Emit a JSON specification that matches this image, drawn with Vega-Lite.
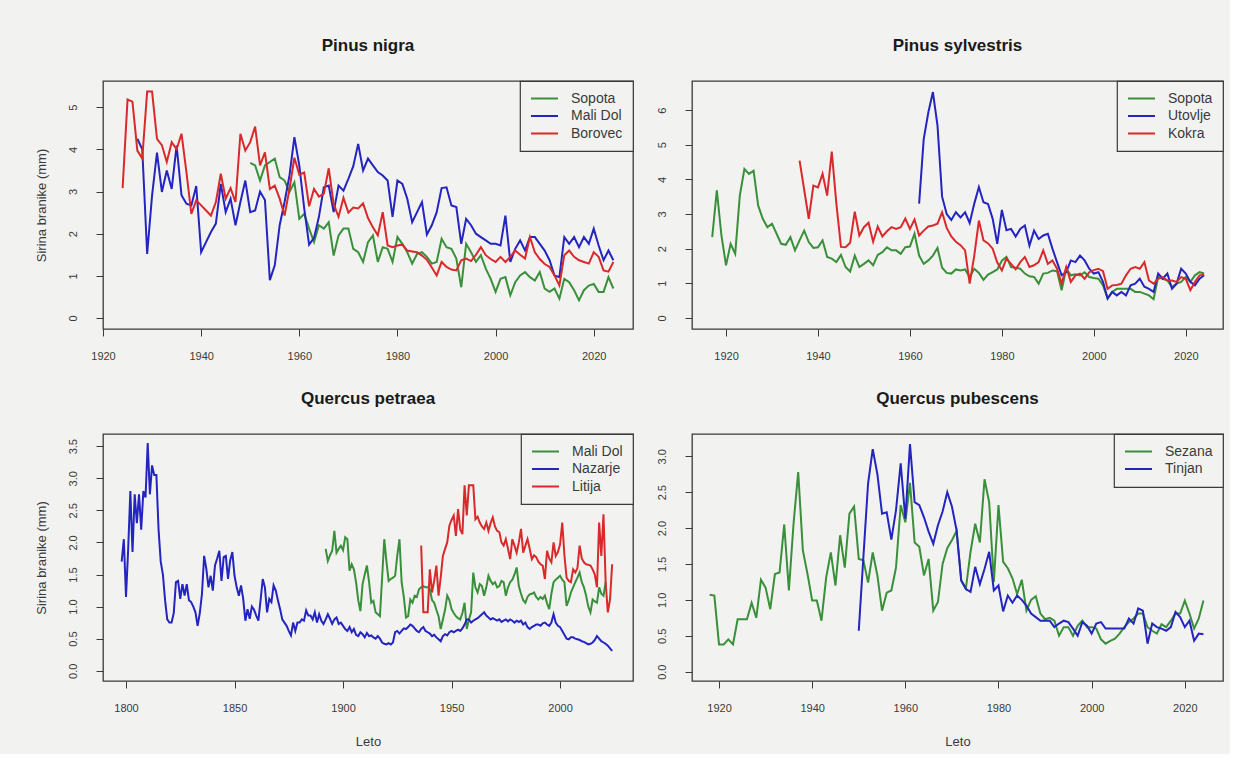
{
"$schema": "https://vega.github.io/schema/vega-lite/v6.json",
"background": "#f2f3f1",
"padding": {"left": 34, "top": 36, "right": 5, "bottom": 5},
"config": {
 "font": "Liberation Sans",
 "view": {"stroke": "#3a3a3a", "strokeWidth": 1.3},
 "range": {"category": ["#3a8f3a", "#2424bf", "#d9292b"]},
 "axis": {"domain": false, "grid": false, "ticks": true, "tickColor": "#3a3a3a", "tickSize": 7, "tickWidth": 1, "labelFontSize": 11, "labelColor": "#3a3a3a", "labelPadding": 14, "labelFlush": false, "labelOverlap": false, "titleFontSize": 13, "titleFontWeight": "normal", "titleColor": "#3a3a3a"},
 "axisY": {"labelAngle": 270, "labelAlign": "center", "labelBaseline": "bottom", "labelPadding": 18, "titlePadding": 19},
 "axisX": {"titlePadding": 22},
 "title": {"fontSize": 17, "fontWeight": "bold", "color": "#1a1a1a", "offset": 25, "anchor": "middle"},
 "legend": {"orient": "top-right", "offset": 0, "strokeColor": "#3a3a3a", "strokeWidth": 1.2, "fillColor": "#f2f3f1", "padding": 10, "symbolType": "stroke", "symbolSize": 729, "symbolStrokeWidth": 2, "clipHeight": 15, "rowPadding": 2.5, "labelFontSize": 14, "labelOffset": 12, "labelColor": "#3a3a3a"}
},
"datasets": {
 "a1": [{"x":1950,"y":3.68},{"x":1951,"y":3.62},{"x":1952,"y":3.26},{"x":1953,"y":3.62},{"x":1954,"y":3.7},{"x":1955,"y":3.78},{"x":1956,"y":3.34},{"x":1957,"y":3.26},{"x":1958,"y":2.99},{"x":1959,"y":3.22},{"x":1960,"y":2.35},{"x":1961,"y":2.47},{"x":1962,"y":2.12},{"x":1963,"y":1.8},{"x":1964,"y":2.2},{"x":1965,"y":2.12},{"x":1966,"y":2.27},{"x":1967,"y":1.48},{"x":1968,"y":1.96},{"x":1969,"y":2.12},{"x":1970,"y":2.12},{"x":1971,"y":1.64},{"x":1972,"y":1.56},{"x":1973,"y":1.33},{"x":1974,"y":1.8},{"x":1975,"y":1.96},{"x":1976,"y":1.33},{"x":1977,"y":1.68},{"x":1978,"y":1.64},{"x":1979,"y":1.33},{"x":1980,"y":1.92},{"x":1981,"y":1.76},{"x":1982,"y":1.56},{"x":1983,"y":1.29},{"x":1984,"y":1.52},{"x":1985,"y":1.56},{"x":1986,"y":1.45},{"x":1987,"y":1.29},{"x":1988,"y":1.33},{"x":1989,"y":1.88},{"x":1990,"y":1.68},{"x":1991,"y":1.64},{"x":1992,"y":1.41},{"x":1993,"y":0.73},{"x":1994,"y":1.76},{"x":1995,"y":1.56},{"x":1996,"y":1.33},{"x":1997,"y":1.49},{"x":1998,"y":1.17},{"x":1999,"y":0.93},{"x":2000,"y":0.62},{"x":2001,"y":0.93},{"x":2002,"y":0.97},{"x":2003,"y":0.54},{"x":2004,"y":0.85},{"x":2005,"y":1.01},{"x":2006,"y":1.09},{"x":2007,"y":0.97},{"x":2008,"y":0.89},{"x":2009,"y":1.09},{"x":2010,"y":0.7},{"x":2011,"y":0.62},{"x":2012,"y":0.7},{"x":2013,"y":0.46},{"x":2014,"y":0.93},{"x":2015,"y":0.85},{"x":2016,"y":0.66},{"x":2017,"y":0.42},{"x":2018,"y":0.66},{"x":2019,"y":0.77},{"x":2020,"y":0.81},{"x":2021,"y":0.62},{"x":2022,"y":0.62},{"x":2023,"y":0.97},{"x":2024,"y":0.7}],
 "a2": [{"x":1927,"y":4.25},{"x":1928,"y":4.0},{"x":1929,"y":1.52},{"x":1930,"y":2.91},{"x":1931,"y":3.92},{"x":1932,"y":2.99},{"x":1933,"y":3.5},{"x":1934,"y":3.06},{"x":1935,"y":4.09},{"x":1936,"y":2.91},{"x":1937,"y":2.71},{"x":1938,"y":2.67},{"x":1939,"y":3.13},{"x":1940,"y":1.56},{"x":1941,"y":1.8},{"x":1942,"y":2.04},{"x":1943,"y":2.24},{"x":1944,"y":3.18},{"x":1945,"y":2.51},{"x":1946,"y":2.83},{"x":1947,"y":2.2},{"x":1948,"y":2.75},{"x":1949,"y":3.26},{"x":1950,"y":2.51},{"x":1951,"y":2.55},{"x":1952,"y":3.0},{"x":1953,"y":2.8},{"x":1954,"y":0.9},{"x":1955,"y":1.25},{"x":1956,"y":2.2},{"x":1957,"y":2.75},{"x":1958,"y":3.38},{"x":1959,"y":4.29},{"x":1960,"y":3.62},{"x":1961,"y":2.6},{"x":1962,"y":1.74},{"x":1963,"y":1.9},{"x":1964,"y":2.4},{"x":1965,"y":3.1},{"x":1966,"y":3.14},{"x":1967,"y":2.51},{"x":1968,"y":3.14},{"x":1969,"y":3.02},{"x":1970,"y":3.3},{"x":1971,"y":3.6},{"x":1972,"y":4.13},{"x":1973,"y":3.5},{"x":1974,"y":3.78},{"x":1975,"y":3.62},{"x":1976,"y":3.46},{"x":1977,"y":3.38},{"x":1978,"y":3.26},{"x":1979,"y":2.4},{"x":1980,"y":3.26},{"x":1981,"y":3.18},{"x":1982,"y":2.83},{"x":1983,"y":2.27},{"x":1984,"y":2.51},{"x":1985,"y":2.75},{"x":1986,"y":1.98},{"x":1987,"y":2.2},{"x":1988,"y":2.51},{"x":1989,"y":3.08},{"x":1990,"y":3.1},{"x":1991,"y":2.67},{"x":1992,"y":2.63},{"x":1993,"y":1.76},{"x":1994,"y":2.35},{"x":1995,"y":2.2},{"x":1996,"y":2.0},{"x":1997,"y":1.92},{"x":1998,"y":1.84},{"x":1999,"y":1.76},{"x":2000,"y":1.76},{"x":2001,"y":1.72},{"x":2002,"y":2.43},{"x":2003,"y":1.33},{"x":2004,"y":1.64},{"x":2005,"y":1.84},{"x":2006,"y":1.6},{"x":2007,"y":1.92},{"x":2008,"y":1.92},{"x":2009,"y":1.76},{"x":2010,"y":1.6},{"x":2011,"y":1.37},{"x":2012,"y":1.01},{"x":2013,"y":0.97},{"x":2014,"y":1.92},{"x":2015,"y":1.76},{"x":2016,"y":1.92},{"x":2017,"y":1.68},{"x":2018,"y":1.92},{"x":2019,"y":1.76},{"x":2020,"y":2.12},{"x":2021,"y":1.72},{"x":2022,"y":1.37},{"x":2023,"y":1.6},{"x":2024,"y":1.37}],
 "a3": [{"x":1924,"y":3.08},{"x":1925,"y":5.18},{"x":1926,"y":5.13},{"x":1927,"y":3.97},{"x":1928,"y":3.78},{"x":1929,"y":5.37},{"x":1930,"y":5.37},{"x":1931,"y":4.25},{"x":1932,"y":4.1},{"x":1933,"y":3.7},{"x":1934,"y":4.17},{"x":1935,"y":4.0},{"x":1936,"y":4.37},{"x":1937,"y":3.46},{"x":1938,"y":2.47},{"x":1939,"y":2.79},{"x":1940,"y":2.67},{"x":1941,"y":2.55},{"x":1942,"y":2.43},{"x":1943,"y":2.75},{"x":1944,"y":3.42},{"x":1945,"y":2.83},{"x":1946,"y":3.08},{"x":1947,"y":2.75},{"x":1948,"y":4.37},{"x":1949,"y":3.97},{"x":1950,"y":4.17},{"x":1951,"y":4.54},{"x":1952,"y":3.62},{"x":1953,"y":3.93},{"x":1954,"y":3.06},{"x":1955,"y":3.14},{"x":1956,"y":2.83},{"x":1957,"y":2.43},{"x":1958,"y":3.06},{"x":1959,"y":3.8},{"x":1960,"y":3.4},{"x":1961,"y":3.45},{"x":1962,"y":2.65},{"x":1963,"y":3.06},{"x":1964,"y":2.88},{"x":1965,"y":2.95},{"x":1966,"y":3.55},{"x":1967,"y":2.7},{"x":1968,"y":2.4},{"x":1969,"y":2.85},{"x":1970,"y":2.5},{"x":1971,"y":2.62},{"x":1972,"y":2.6},{"x":1973,"y":2.72},{"x":1974,"y":2.37},{"x":1975,"y":2.15},{"x":1976,"y":1.96},{"x":1977,"y":2.51},{"x":1978,"y":1.72},{"x":1979,"y":1.68},{"x":1980,"y":1.72},{"x":1981,"y":1.74},{"x":1982,"y":1.6},{"x":1983,"y":1.58},{"x":1984,"y":1.56},{"x":1985,"y":1.48},{"x":1986,"y":1.38},{"x":1987,"y":1.2},{"x":1988,"y":1.01},{"x":1989,"y":1.33},{"x":1990,"y":1.21},{"x":1991,"y":1.15},{"x":1992,"y":1.13},{"x":1993,"y":1.37},{"x":1994,"y":1.41},{"x":1995,"y":1.35},{"x":1996,"y":1.5},{"x":1997,"y":1.68},{"x":1998,"y":1.49},{"x":1999,"y":1.4},{"x":2000,"y":1.33},{"x":2001,"y":1.45},{"x":2002,"y":1.33},{"x":2003,"y":1.45},{"x":2004,"y":1.6},{"x":2005,"y":1.5},{"x":2006,"y":1.41},{"x":2007,"y":1.92},{"x":2008,"y":1.56},{"x":2009,"y":1.4},{"x":2010,"y":1.28},{"x":2011,"y":1.21},{"x":2012,"y":1.01},{"x":2013,"y":0.77},{"x":2014,"y":1.49},{"x":2015,"y":1.6},{"x":2016,"y":1.45},{"x":2017,"y":1.37},{"x":2018,"y":1.33},{"x":2019,"y":1.29},{"x":2020,"y":1.56},{"x":2021,"y":1.45},{"x":2022,"y":1.13},{"x":2023,"y":1.1},{"x":2024,"y":1.33}],
 "b1": [{"x":1917,"y":2.33},{"x":1918,"y":3.68},{"x":1919,"y":2.38},{"x":1920,"y":1.52},{"x":1921,"y":2.14},{"x":1922,"y":1.85},{"x":1923,"y":3.53},{"x":1924,"y":4.3},{"x":1925,"y":4.16},{"x":1926,"y":4.25},{"x":1927,"y":3.24},{"x":1928,"y":2.86},{"x":1929,"y":2.62},{"x":1930,"y":2.72},{"x":1931,"y":2.43},{"x":1932,"y":2.14},{"x":1933,"y":2.11},{"x":1934,"y":2.33},{"x":1935,"y":1.95},{"x":1936,"y":2.24},{"x":1937,"y":2.52},{"x":1938,"y":2.19},{"x":1939,"y":2.02},{"x":1940,"y":2.04},{"x":1941,"y":2.24},{"x":1942,"y":1.76},{"x":1943,"y":1.71},{"x":1944,"y":1.61},{"x":1945,"y":1.82},{"x":1946,"y":1.47},{"x":1947,"y":1.34},{"x":1948,"y":1.8},{"x":1949,"y":1.47},{"x":1950,"y":1.56},{"x":1951,"y":1.66},{"x":1952,"y":1.52},{"x":1953,"y":1.82},{"x":1954,"y":1.9},{"x":1955,"y":2.04},{"x":1956,"y":1.95},{"x":1957,"y":1.95},{"x":1958,"y":1.85},{"x":1959,"y":2.04},{"x":1960,"y":2.06},{"x":1961,"y":2.43},{"x":1962,"y":1.8},{"x":1963,"y":1.56},{"x":1964,"y":1.66},{"x":1965,"y":1.8},{"x":1966,"y":2.02},{"x":1967,"y":1.45},{"x":1968,"y":1.3},{"x":1969,"y":1.28},{"x":1970,"y":1.4},{"x":1971,"y":1.37},{"x":1972,"y":1.4},{"x":1973,"y":1.18},{"x":1974,"y":1.42},{"x":1975,"y":1.3},{"x":1976,"y":1.1},{"x":1977,"y":1.25},{"x":1978,"y":1.32},{"x":1979,"y":1.4},{"x":1980,"y":1.65},{"x":1981,"y":1.76},{"x":1982,"y":1.47},{"x":1983,"y":1.45},{"x":1984,"y":1.42},{"x":1985,"y":1.28},{"x":1986,"y":1.2},{"x":1987,"y":1.18},{"x":1988,"y":0.99},{"x":1989,"y":1.28},{"x":1990,"y":1.3},{"x":1991,"y":1.37},{"x":1992,"y":1.35},{"x":1993,"y":0.8},{"x":1994,"y":1.42},{"x":1995,"y":1.23},{"x":1996,"y":1.26},{"x":1997,"y":1.23},{"x":1998,"y":1.32},{"x":1999,"y":1.18},{"x":2000,"y":1.15},{"x":2001,"y":1.13},{"x":2002,"y":0.94},{"x":2003,"y":0.56},{"x":2004,"y":0.75},{"x":2005,"y":0.84},{"x":2006,"y":0.84},{"x":2007,"y":0.84},{"x":2008,"y":0.84},{"x":2009,"y":0.75},{"x":2010,"y":0.75},{"x":2011,"y":0.7},{"x":2012,"y":0.65},{"x":2013,"y":0.54},{"x":2014,"y":1.18},{"x":2015,"y":1.13},{"x":2016,"y":1.08},{"x":2017,"y":0.89},{"x":2018,"y":0.99},{"x":2019,"y":1.04},{"x":2020,"y":1.18},{"x":2021,"y":1.04},{"x":2022,"y":1.23},{"x":2023,"y":1.32},{"x":2024,"y":1.28}],
 "b2": [{"x":1962,"y":3.3},{"x":1963,"y":5.16},{"x":1964,"y":5.93},{"x":1965,"y":6.52},{"x":1966,"y":5.55},{"x":1967,"y":3.5},{"x":1968,"y":3.0},{"x":1969,"y":2.83},{"x":1970,"y":3.05},{"x":1971,"y":2.9},{"x":1972,"y":3.05},{"x":1973,"y":2.74},{"x":1974,"y":3.3},{"x":1975,"y":3.78},{"x":1976,"y":3.34},{"x":1977,"y":3.29},{"x":1978,"y":2.86},{"x":1979,"y":2.14},{"x":1980,"y":3.12},{"x":1981,"y":2.53},{"x":1982,"y":2.57},{"x":1983,"y":2.35},{"x":1984,"y":2.57},{"x":1985,"y":2.67},{"x":1986,"y":2.09},{"x":1987,"y":2.52},{"x":1988,"y":2.28},{"x":1989,"y":2.38},{"x":1990,"y":2.43},{"x":1991,"y":2.0},{"x":1992,"y":1.61},{"x":1993,"y":1.23},{"x":1994,"y":1.32},{"x":1995,"y":1.66},{"x":1996,"y":1.61},{"x":1997,"y":1.8},{"x":1998,"y":1.66},{"x":1999,"y":1.42},{"x":2000,"y":1.28},{"x":2001,"y":1.32},{"x":2002,"y":1.04},{"x":2003,"y":0.56},{"x":2004,"y":0.75},{"x":2005,"y":0.65},{"x":2006,"y":0.75},{"x":2007,"y":0.65},{"x":2008,"y":0.94},{"x":2009,"y":0.99},{"x":2010,"y":1.13},{"x":2011,"y":0.9},{"x":2012,"y":0.84},{"x":2013,"y":0.75},{"x":2014,"y":1.28},{"x":2015,"y":1.13},{"x":2016,"y":1.28},{"x":2017,"y":0.84},{"x":2018,"y":0.99},{"x":2019,"y":1.42},{"x":2020,"y":1.28},{"x":2021,"y":1.04},{"x":2022,"y":0.94},{"x":2023,"y":1.13},{"x":2024,"y":1.23}],
 "b3": [{"x":1936,"y":4.54},{"x":1937,"y":3.7},{"x":1938,"y":2.86},{"x":1939,"y":3.82},{"x":1940,"y":3.77},{"x":1941,"y":4.16},{"x":1942,"y":3.53},{"x":1943,"y":4.8},{"x":1944,"y":3.3},{"x":1945,"y":2.05},{"x":1946,"y":2.04},{"x":1947,"y":2.17},{"x":1948,"y":3.07},{"x":1949,"y":2.38},{"x":1950,"y":2.62},{"x":1951,"y":2.75},{"x":1952,"y":2.2},{"x":1953,"y":2.64},{"x":1954,"y":2.35},{"x":1955,"y":2.5},{"x":1956,"y":2.62},{"x":1957,"y":2.57},{"x":1958,"y":2.62},{"x":1959,"y":2.87},{"x":1960,"y":2.57},{"x":1961,"y":2.84},{"x":1962,"y":2.38},{"x":1963,"y":2.52},{"x":1964,"y":2.64},{"x":1965,"y":2.67},{"x":1966,"y":2.72},{"x":1967,"y":3.05},{"x":1968,"y":2.6},{"x":1969,"y":2.35},{"x":1970,"y":2.2},{"x":1971,"y":2.1},{"x":1972,"y":1.95},{"x":1973,"y":0.99},{"x":1974,"y":1.8},{"x":1975,"y":2.81},{"x":1976,"y":2.24},{"x":1977,"y":2.15},{"x":1978,"y":2.0},{"x":1979,"y":1.6},{"x":1980,"y":1.37},{"x":1981,"y":1.71},{"x":1982,"y":1.56},{"x":1983,"y":1.4},{"x":1984,"y":1.61},{"x":1985,"y":1.76},{"x":1986,"y":1.47},{"x":1987,"y":1.52},{"x":1988,"y":1.61},{"x":1989,"y":1.95},{"x":1990,"y":1.56},{"x":1991,"y":1.66},{"x":1992,"y":1.42},{"x":1993,"y":0.99},{"x":1994,"y":1.47},{"x":1995,"y":1.04},{"x":1996,"y":1.23},{"x":1997,"y":1.28},{"x":1998,"y":1.13},{"x":1999,"y":1.32},{"x":2000,"y":1.38},{"x":2001,"y":1.42},{"x":2002,"y":1.35},{"x":2003,"y":0.84},{"x":2004,"y":0.94},{"x":2005,"y":0.95},{"x":2006,"y":0.99},{"x":2007,"y":1.23},{"x":2008,"y":1.42},{"x":2009,"y":1.47},{"x":2010,"y":1.42},{"x":2011,"y":1.61},{"x":2012,"y":1.08},{"x":2013,"y":0.99},{"x":2014,"y":1.13},{"x":2015,"y":1.18},{"x":2016,"y":1.08},{"x":2017,"y":1.08},{"x":2018,"y":1.04},{"x":2019,"y":1.18},{"x":2020,"y":1.13},{"x":2021,"y":0.8},{"x":2022,"y":1.04},{"x":2023,"y":1.23},{"x":2024,"y":1.25}],
 "c1": [{"x":1892,"y":1.9},{"x":1893,"y":1.71},{"x":1894,"y":1.8},{"x":1895,"y":1.87},{"x":1896,"y":2.18},{"x":1897,"y":1.84},{"x":1898,"y":1.9},{"x":1899,"y":1.95},{"x":1900,"y":1.88},{"x":1901,"y":2.08},{"x":1902,"y":2.05},{"x":1903,"y":1.56},{"x":1904,"y":1.66},{"x":1905,"y":1.58},{"x":1906,"y":1.38},{"x":1907,"y":1.1},{"x":1908,"y":0.93},{"x":1909,"y":1.35},{"x":1910,"y":1.5},{"x":1911,"y":1.64},{"x":1912,"y":1.38},{"x":1913,"y":1.06},{"x":1914,"y":1.09},{"x":1915,"y":0.91},{"x":1916,"y":0.88},{"x":1917,"y":0.85},{"x":1918,"y":1.45},{"x":1919,"y":2.05},{"x":1920,"y":1.7},{"x":1921,"y":1.4},{"x":1922,"y":1.43},{"x":1923,"y":1.45},{"x":1924,"y":1.48},{"x":1925,"y":1.8},{"x":1926,"y":2.05},{"x":1927,"y":1.38},{"x":1928,"y":1.15},{"x":1929,"y":0.83},{"x":1930,"y":0.85},{"x":1931,"y":1.11},{"x":1932,"y":1.06},{"x":1933,"y":1.17},{"x":1934,"y":1.15},{"x":1935,"y":1.27},{"x":1936,"y":1.3},{"x":1937,"y":1.32},{"x":1938,"y":1.3},{"x":1939,"y":1.3},{"x":1940,"y":1.27},{"x":1941,"y":1.1},{"x":1942,"y":1.06},{"x":1943,"y":0.95},{"x":1944,"y":0.85},{"x":1945,"y":0.65},{"x":1946,"y":0.8},{"x":1947,"y":0.95},{"x":1948,"y":1.17},{"x":1949,"y":1.1},{"x":1950,"y":0.96},{"x":1951,"y":0.9},{"x":1952,"y":0.85},{"x":1953,"y":0.82},{"x":1954,"y":0.8},{"x":1955,"y":0.9},{"x":1956,"y":1.06},{"x":1957,"y":0.65},{"x":1958,"y":0.8},{"x":1959,"y":0.91},{"x":1960,"y":1.53},{"x":1961,"y":1.3},{"x":1962,"y":1.22},{"x":1963,"y":1.35},{"x":1964,"y":1.32},{"x":1965,"y":1.17},{"x":1966,"y":1.3},{"x":1967,"y":1.48},{"x":1968,"y":1.4},{"x":1969,"y":1.35},{"x":1970,"y":1.38},{"x":1971,"y":1.3},{"x":1972,"y":1.32},{"x":1973,"y":1.4},{"x":1974,"y":1.38},{"x":1975,"y":1.17},{"x":1976,"y":1.3},{"x":1977,"y":1.38},{"x":1978,"y":1.42},{"x":1979,"y":1.5},{"x":1980,"y":1.61},{"x":1981,"y":1.32},{"x":1982,"y":1.2},{"x":1983,"y":1.1},{"x":1984,"y":1.06},{"x":1985,"y":1.15},{"x":1986,"y":1.19},{"x":1987,"y":1.2},{"x":1988,"y":1.22},{"x":1989,"y":1.15},{"x":1990,"y":1.11},{"x":1991,"y":1.15},{"x":1992,"y":1.12},{"x":1993,"y":1.17},{"x":1994,"y":1.05},{"x":1995,"y":0.96},{"x":1996,"y":1.2},{"x":1997,"y":1.38},{"x":1998,"y":1.42},{"x":1999,"y":1.45},{"x":2000,"y":1.48},{"x":2001,"y":1.42},{"x":2002,"y":1.38},{"x":2003,"y":1.01},{"x":2004,"y":1.1},{"x":2005,"y":1.22},{"x":2006,"y":1.3},{"x":2007,"y":1.38},{"x":2008,"y":1.45},{"x":2009,"y":1.53},{"x":2010,"y":1.38},{"x":2011,"y":1.3},{"x":2012,"y":1.17},{"x":2013,"y":1.0},{"x":2014,"y":0.91},{"x":2015,"y":1.11},{"x":2016,"y":1.08},{"x":2017,"y":1.06},{"x":2018,"y":1.3},{"x":2019,"y":1.2},{"x":2020,"y":1.17},{"x":2021,"y":1.38}],
 "c2": [{"x":1798,"y":1.7},{"x":1799,"y":2.05},{"x":1800,"y":1.15},{"x":1801,"y":1.9},{"x":1802,"y":2.8},{"x":1803,"y":1.85},{"x":1804,"y":2.75},{"x":1805,"y":2.3},{"x":1806,"y":2.75},{"x":1807,"y":2.2},{"x":1808,"y":2.8},{"x":1809,"y":2.7},{"x":1810,"y":3.55},{"x":1811,"y":2.75},{"x":1812,"y":3.2},{"x":1813,"y":3.05},{"x":1814,"y":3.05},{"x":1815,"y":2.2},{"x":1816,"y":1.7},{"x":1817,"y":1.5},{"x":1818,"y":1.1},{"x":1819,"y":0.8},{"x":1820,"y":0.75},{"x":1821,"y":0.75},{"x":1822,"y":0.9},{"x":1823,"y":1.38},{"x":1824,"y":1.4},{"x":1825,"y":1.12},{"x":1826,"y":1.35},{"x":1827,"y":1.17},{"x":1828,"y":1.35},{"x":1829,"y":1.1},{"x":1830,"y":1.07},{"x":1831,"y":1.0},{"x":1832,"y":0.91},{"x":1833,"y":0.7},{"x":1834,"y":0.9},{"x":1835,"y":1.2},{"x":1836,"y":1.79},{"x":1837,"y":1.59},{"x":1838,"y":1.3},{"x":1839,"y":1.48},{"x":1840,"y":1.25},{"x":1841,"y":1.64},{"x":1842,"y":1.75},{"x":1843,"y":1.87},{"x":1844,"y":1.4},{"x":1845,"y":1.77},{"x":1846,"y":1.79},{"x":1847,"y":1.43},{"x":1848,"y":1.72},{"x":1849,"y":1.85},{"x":1850,"y":1.48},{"x":1851,"y":1.3},{"x":1852,"y":1.17},{"x":1853,"y":1.33},{"x":1854,"y":1.12},{"x":1855,"y":0.78},{"x":1856,"y":0.96},{"x":1857,"y":0.81},{"x":1858,"y":1.0},{"x":1859,"y":0.95},{"x":1860,"y":0.86},{"x":1861,"y":0.78},{"x":1862,"y":1.1},{"x":1863,"y":1.43},{"x":1864,"y":1.3},{"x":1865,"y":0.91},{"x":1866,"y":1.12},{"x":1867,"y":1.07},{"x":1868,"y":1.33},{"x":1869,"y":1.25},{"x":1870,"y":1.1},{"x":1871,"y":0.96},{"x":1872,"y":0.8},{"x":1873,"y":0.75},{"x":1874,"y":0.7},{"x":1875,"y":0.62},{"x":1876,"y":0.55},{"x":1877,"y":0.75},{"x":1878,"y":0.62},{"x":1879,"y":0.75},{"x":1880,"y":0.75},{"x":1881,"y":0.8},{"x":1882,"y":0.78},{"x":1883,"y":0.94},{"x":1884,"y":0.86},{"x":1885,"y":0.86},{"x":1886,"y":0.8},{"x":1887,"y":0.91},{"x":1888,"y":0.75},{"x":1889,"y":0.88},{"x":1890,"y":0.78},{"x":1891,"y":0.73},{"x":1892,"y":0.8},{"x":1893,"y":0.88},{"x":1894,"y":0.81},{"x":1895,"y":0.73},{"x":1896,"y":0.8},{"x":1897,"y":0.83},{"x":1898,"y":0.73},{"x":1899,"y":0.75},{"x":1900,"y":0.7},{"x":1901,"y":0.65},{"x":1902,"y":0.62},{"x":1903,"y":0.68},{"x":1904,"y":0.6},{"x":1905,"y":0.65},{"x":1906,"y":0.56},{"x":1907,"y":0.54},{"x":1908,"y":0.6},{"x":1909,"y":0.57},{"x":1910,"y":0.52},{"x":1911,"y":0.59},{"x":1912,"y":0.54},{"x":1913,"y":0.55},{"x":1914,"y":0.52},{"x":1915,"y":0.5},{"x":1916,"y":0.54},{"x":1917,"y":0.5},{"x":1918,"y":0.44},{"x":1919,"y":0.42},{"x":1920,"y":0.41},{"x":1921,"y":0.43},{"x":1922,"y":0.41},{"x":1923,"y":0.44},{"x":1924,"y":0.6},{"x":1925,"y":0.62},{"x":1926,"y":0.58},{"x":1927,"y":0.62},{"x":1928,"y":0.66},{"x":1929,"y":0.65},{"x":1930,"y":0.68},{"x":1931,"y":0.72},{"x":1932,"y":0.7},{"x":1933,"y":0.66},{"x":1934,"y":0.62},{"x":1935,"y":0.6},{"x":1936,"y":0.65},{"x":1937,"y":0.68},{"x":1938,"y":0.62},{"x":1939,"y":0.6},{"x":1940,"y":0.58},{"x":1941,"y":0.54},{"x":1942,"y":0.56},{"x":1943,"y":0.52},{"x":1944,"y":0.49},{"x":1945,"y":0.46},{"x":1946,"y":0.54},{"x":1947,"y":0.57},{"x":1948,"y":0.55},{"x":1949,"y":0.6},{"x":1950,"y":0.62},{"x":1951,"y":0.6},{"x":1952,"y":0.62},{"x":1953,"y":0.64},{"x":1954,"y":0.62},{"x":1955,"y":0.66},{"x":1956,"y":0.72},{"x":1957,"y":0.8},{"x":1958,"y":0.8},{"x":1959,"y":0.75},{"x":1960,"y":0.78},{"x":1961,"y":0.8},{"x":1962,"y":0.82},{"x":1963,"y":0.85},{"x":1964,"y":0.88},{"x":1965,"y":0.91},{"x":1966,"y":0.86},{"x":1967,"y":0.83},{"x":1968,"y":0.8},{"x":1969,"y":0.82},{"x":1970,"y":0.8},{"x":1971,"y":0.78},{"x":1972,"y":0.8},{"x":1973,"y":0.76},{"x":1974,"y":0.78},{"x":1975,"y":0.8},{"x":1976,"y":0.77},{"x":1977,"y":0.8},{"x":1978,"y":0.78},{"x":1979,"y":0.75},{"x":1980,"y":0.78},{"x":1981,"y":0.76},{"x":1982,"y":0.78},{"x":1983,"y":0.72},{"x":1984,"y":0.75},{"x":1985,"y":0.68},{"x":1986,"y":0.65},{"x":1987,"y":0.68},{"x":1988,"y":0.7},{"x":1989,"y":0.72},{"x":1990,"y":0.72},{"x":1991,"y":0.7},{"x":1992,"y":0.74},{"x":1993,"y":0.75},{"x":1994,"y":0.72},{"x":1995,"y":0.7},{"x":1996,"y":0.75},{"x":1997,"y":0.88},{"x":1998,"y":0.75},{"x":1999,"y":0.7},{"x":2000,"y":0.68},{"x":2001,"y":0.62},{"x":2002,"y":0.56},{"x":2003,"y":0.5},{"x":2004,"y":0.49},{"x":2005,"y":0.52},{"x":2006,"y":0.52},{"x":2007,"y":0.5},{"x":2008,"y":0.49},{"x":2009,"y":0.48},{"x":2010,"y":0.46},{"x":2011,"y":0.45},{"x":2012,"y":0.43},{"x":2013,"y":0.41},{"x":2014,"y":0.42},{"x":2015,"y":0.44},{"x":2016,"y":0.48},{"x":2017,"y":0.54},{"x":2018,"y":0.5},{"x":2019,"y":0.46},{"x":2020,"y":0.44},{"x":2021,"y":0.42},{"x":2022,"y":0.39},{"x":2023,"y":0.35},{"x":2024,"y":0.31}],
 "c3": [{"x":1936,"y":1.95},{"x":1937,"y":0.91},{"x":1938,"y":0.91},{"x":1939,"y":0.91},{"x":1940,"y":1.58},{"x":1941,"y":1.22},{"x":1942,"y":1.4},{"x":1943,"y":1.64},{"x":1944,"y":1.17},{"x":1945,"y":1.45},{"x":1946,"y":1.79},{"x":1947,"y":1.9},{"x":1948,"y":2.0},{"x":1949,"y":2.26},{"x":1950,"y":2.35},{"x":1951,"y":2.42},{"x":1952,"y":2.1},{"x":1953,"y":2.52},{"x":1954,"y":2.2},{"x":1955,"y":2.13},{"x":1956,"y":2.89},{"x":1957,"y":2.42},{"x":1958,"y":2.89},{"x":1959,"y":2.89},{"x":1960,"y":2.89},{"x":1961,"y":2.36},{"x":1962,"y":2.4},{"x":1963,"y":2.31},{"x":1964,"y":2.25},{"x":1965,"y":2.21},{"x":1966,"y":2.31},{"x":1967,"y":2.18},{"x":1968,"y":2.3},{"x":1969,"y":2.39},{"x":1970,"y":2.25},{"x":1971,"y":2.18},{"x":1972,"y":2.16},{"x":1973,"y":2.0},{"x":1974,"y":1.95},{"x":1975,"y":2.05},{"x":1976,"y":1.9},{"x":1977,"y":1.74},{"x":1978,"y":2.05},{"x":1979,"y":1.95},{"x":1980,"y":1.84},{"x":1981,"y":2.0},{"x":1982,"y":2.21},{"x":1983,"y":1.84},{"x":1984,"y":1.95},{"x":1985,"y":2.05},{"x":1986,"y":1.9},{"x":1987,"y":1.74},{"x":1988,"y":1.8},{"x":1989,"y":1.77},{"x":1990,"y":1.7},{"x":1991,"y":1.66},{"x":1992,"y":1.64},{"x":1993,"y":1.43},{"x":1994,"y":1.87},{"x":1995,"y":1.75},{"x":1996,"y":1.69},{"x":1997,"y":2.0},{"x":1998,"y":1.79},{"x":1999,"y":1.85},{"x":2000,"y":1.97},{"x":2001,"y":2.31},{"x":2002,"y":1.8},{"x":2003,"y":1.45},{"x":2004,"y":1.4},{"x":2005,"y":1.38},{"x":2006,"y":1.58},{"x":2007,"y":1.53},{"x":2008,"y":1.6},{"x":2009,"y":1.95},{"x":2010,"y":1.75},{"x":2011,"y":1.69},{"x":2012,"y":1.66},{"x":2013,"y":1.65},{"x":2014,"y":1.64},{"x":2015,"y":1.58},{"x":2016,"y":1.5},{"x":2017,"y":1.3},{"x":2018,"y":2.31},{"x":2019,"y":1.79},{"x":2020,"y":2.44},{"x":2021,"y":1.38},{"x":2022,"y":0.91},{"x":2023,"y":1.11},{"x":2024,"y":1.66}],
 "d1": [{"x":1918,"y":1.07},{"x":1919,"y":1.06},{"x":1920,"y":0.38},{"x":1921,"y":0.38},{"x":1922,"y":0.45},{"x":1923,"y":0.38},{"x":1924,"y":0.73},{"x":1925,"y":0.73},{"x":1926,"y":0.73},{"x":1927,"y":0.96},{"x":1928,"y":0.75},{"x":1929,"y":1.28},{"x":1930,"y":1.17},{"x":1931,"y":0.87},{"x":1932,"y":1.36},{"x":1933,"y":1.38},{"x":1934,"y":2.05},{"x":1935,"y":1.13},{"x":1936,"y":2.06},{"x":1937,"y":2.78},{"x":1938,"y":1.69},{"x":1939,"y":1.36},{"x":1940,"y":0.99},{"x":1941,"y":0.99},{"x":1942,"y":0.71},{"x":1943,"y":1.31},{"x":1944,"y":1.66},{"x":1945,"y":1.2},{"x":1946,"y":1.9},{"x":1947,"y":1.45},{"x":1948,"y":2.2},{"x":1949,"y":2.3},{"x":1950,"y":1.57},{"x":1951,"y":1.55},{"x":1952,"y":1.24},{"x":1953,"y":1.66},{"x":1954,"y":1.34},{"x":1955,"y":0.85},{"x":1956,"y":1.1},{"x":1957,"y":1.13},{"x":1958,"y":1.45},{"x":1959,"y":2.32},{"x":1960,"y":2.08},{"x":1961,"y":2.63},{"x":1962,"y":1.8},{"x":1963,"y":1.74},{"x":1964,"y":1.34},{"x":1965,"y":1.57},{"x":1966,"y":0.85},{"x":1967,"y":0.97},{"x":1968,"y":1.5},{"x":1969,"y":1.72},{"x":1970,"y":1.83},{"x":1971,"y":1.96},{"x":1972,"y":1.27},{"x":1973,"y":1.16},{"x":1974,"y":1.67},{"x":1975,"y":2.06},{"x":1976,"y":1.8},{"x":1977,"y":2.68},{"x":1978,"y":2.36},{"x":1979,"y":1.25},{"x":1980,"y":2.32},{"x":1981,"y":1.53},{"x":1982,"y":1.44},{"x":1983,"y":1.3},{"x":1984,"y":1.08},{"x":1985,"y":1.28},{"x":1986,"y":0.85},{"x":1987,"y":1.0},{"x":1988,"y":1.05},{"x":1989,"y":0.81},{"x":1990,"y":0.73},{"x":1991,"y":0.75},{"x":1992,"y":0.71},{"x":1993,"y":0.5},{"x":1994,"y":0.62},{"x":1995,"y":0.62},{"x":1996,"y":0.5},{"x":1997,"y":0.64},{"x":1998,"y":0.71},{"x":1999,"y":0.62},{"x":2000,"y":0.62},{"x":2001,"y":0.6},{"x":2002,"y":0.45},{"x":2003,"y":0.39},{"x":2004,"y":0.43},{"x":2005,"y":0.46},{"x":2006,"y":0.53},{"x":2007,"y":0.62},{"x":2008,"y":0.69},{"x":2009,"y":0.74},{"x":2010,"y":0.81},{"x":2011,"y":0.81},{"x":2012,"y":0.62},{"x":2013,"y":0.57},{"x":2014,"y":0.53},{"x":2015,"y":0.66},{"x":2016,"y":0.62},{"x":2017,"y":0.71},{"x":2018,"y":0.81},{"x":2019,"y":0.81},{"x":2020,"y":0.99},{"x":2021,"y":0.81},{"x":2022,"y":0.6},{"x":2023,"y":0.74},{"x":2024,"y":0.99}],
 "d2": [{"x":1950,"y":0.57},{"x":1951,"y":1.6},{"x":1952,"y":2.62},{"x":1953,"y":3.1},{"x":1954,"y":2.75},{"x":1955,"y":2.2},{"x":1956,"y":2.22},{"x":1957,"y":1.84},{"x":1958,"y":2.25},{"x":1959,"y":2.9},{"x":1960,"y":2.13},{"x":1961,"y":3.17},{"x":1962,"y":2.36},{"x":1963,"y":2.32},{"x":1964,"y":2.15},{"x":1965,"y":1.95},{"x":1966,"y":1.78},{"x":1967,"y":2.04},{"x":1968,"y":2.23},{"x":1969,"y":2.5},{"x":1970,"y":2.3},{"x":1971,"y":1.97},{"x":1972,"y":1.27},{"x":1973,"y":1.15},{"x":1974,"y":1.11},{"x":1975,"y":1.46},{"x":1976,"y":1.22},{"x":1977,"y":1.43},{"x":1978,"y":1.67},{"x":1979,"y":1.13},{"x":1980,"y":1.2},{"x":1981,"y":0.84},{"x":1982,"y":1.06},{"x":1983,"y":0.96},{"x":1984,"y":1.06},{"x":1985,"y":1.0},{"x":1986,"y":0.92},{"x":1987,"y":0.81},{"x":1988,"y":0.76},{"x":1989,"y":0.71},{"x":1990,"y":0.71},{"x":1991,"y":0.71},{"x":1992,"y":0.62},{"x":1993,"y":0.67},{"x":1994,"y":0.71},{"x":1995,"y":0.69},{"x":1996,"y":0.6},{"x":1997,"y":0.5},{"x":1998,"y":0.69},{"x":1999,"y":0.64},{"x":2000,"y":0.53},{"x":2001,"y":0.67},{"x":2002,"y":0.69},{"x":2003,"y":0.6},{"x":2004,"y":0.6},{"x":2005,"y":0.6},{"x":2006,"y":0.6},{"x":2007,"y":0.6},{"x":2008,"y":0.74},{"x":2009,"y":0.67},{"x":2010,"y":0.88},{"x":2011,"y":0.85},{"x":2012,"y":0.39},{"x":2013,"y":0.67},{"x":2014,"y":0.62},{"x":2015,"y":0.6},{"x":2016,"y":0.57},{"x":2017,"y":0.62},{"x":2018,"y":0.83},{"x":2019,"y":0.76},{"x":2020,"y":0.62},{"x":2021,"y":0.71},{"x":2022,"y":0.43},{"x":2023,"y":0.53},{"x":2024,"y":0.52}]
},
"concat": [
  {"width": 530, "height": 248, "title": "Pinus nigra",
   "encoding": {
    "x": {"field": "x", "type": "quantitative", "scale": {"domain": [1920, 2028], "nice": false, "zero": false}, "axis": {"values": [1920,1940,1960,1980,2000,2020], "format": "d", "title": null}},
    "y": {"field": "y", "type": "quantitative", "scale": {"domain": [-0.26, 5.62], "nice": false, "zero": false}, "axis": {"values": [0,1,2,3,4,5], "format": "d", "title": "Sirina branike (mm)"}}},
   "layer": [
    {"data": {"name": "a1"}, "mark": {"type": "line", "strokeWidth": 2, "clip": true}, "encoding": {"color": {"datum": "Sopota", "type": "nominal", "scale": {"domain": ["Sopota", "Mali Dol", "Borovec"]}, "legend": {"title": null}}}},
    {"data": {"name": "a2"}, "mark": {"type": "line", "strokeWidth": 2, "clip": true}, "encoding": {"color": {"datum": "Mali Dol", "type": "nominal", "scale": {"domain": ["Sopota", "Mali Dol", "Borovec"]}, "legend": {"title": null}}}},
    {"data": {"name": "a3"}, "mark": {"type": "line", "strokeWidth": 2, "clip": true}, "encoding": {"color": {"datum": "Borovec", "type": "nominal", "scale": {"domain": ["Sopota", "Mali Dol", "Borovec"]}, "legend": {"title": null}}}}
   ]},
  {"width": 531, "height": 248, "title": "Pinus sylvestris",
   "encoding": {
    "x": {"field": "x", "type": "quantitative", "scale": {"domain": [1912.6, 2028.1], "nice": false, "zero": false}, "axis": {"values": [1920,1940,1960,1980,2000,2020], "format": "d", "title": null}},
    "y": {"field": "y", "type": "quantitative", "scale": {"domain": [-0.32, 6.84], "nice": false, "zero": false}, "axis": {"values": [0,1,2,3,4,5,6], "format": "d", "title": null}}},
   "layer": [
    {"data": {"name": "b1"}, "mark": {"type": "line", "strokeWidth": 2, "clip": true}, "encoding": {"color": {"datum": "Sopota", "type": "nominal", "scale": {"domain": ["Sopota", "Utovlje", "Kokra"]}, "legend": {"title": null}}}},
    {"data": {"name": "b2"}, "mark": {"type": "line", "strokeWidth": 2, "clip": true}, "encoding": {"color": {"datum": "Utovlje", "type": "nominal", "scale": {"domain": ["Sopota", "Utovlje", "Kokra"]}, "legend": {"title": null}}}},
    {"data": {"name": "b3"}, "mark": {"type": "line", "strokeWidth": 2, "clip": true}, "encoding": {"color": {"datum": "Kokra", "type": "nominal", "scale": {"domain": ["Sopota", "Utovlje", "Kokra"]}, "legend": {"title": null}}}}
   ]},
  {"width": 530, "height": 247, "title": "Quercus petraea",
   "encoding": {
    "x": {"field": "x", "type": "quantitative", "scale": {"domain": [1789.4, 2033.6], "nice": false, "zero": false}, "axis": {"values": [1800,1850,1900,1950,2000], "format": "d", "title": "Leto"}},
    "y": {"field": "y", "type": "quantitative", "scale": {"domain": [-0.16, 3.69], "nice": false, "zero": false}, "axis": {"values": [0,0.5,1,1.5,2,2.5,3,3.5], "format": ".1f", "title": "Sirina branike (mm)"}}},
   "layer": [
    {"data": {"name": "c1"}, "mark": {"type": "line", "strokeWidth": 2, "clip": true}, "encoding": {"color": {"datum": "Mali Dol", "type": "nominal", "scale": {"domain": ["Mali Dol", "Nazarje", "Litija"]}, "legend": {"title": null}}}},
    {"data": {"name": "c2"}, "mark": {"type": "line", "strokeWidth": 2, "clip": true}, "encoding": {"color": {"datum": "Nazarje", "type": "nominal", "scale": {"domain": ["Mali Dol", "Nazarje", "Litija"]}, "legend": {"title": null}}}},
    {"data": {"name": "c3"}, "mark": {"type": "line", "strokeWidth": 2, "clip": true}, "encoding": {"color": {"datum": "Litija", "type": "nominal", "scale": {"domain": ["Mali Dol", "Nazarje", "Litija"]}, "legend": {"title": null}}}}
   ]},
  {"width": 531, "height": 247, "title": "Quercus pubescens",
   "encoding": {
    "x": {"field": "x", "type": "quantitative", "scale": {"domain": [1914.2, 2028.2], "nice": false, "zero": false}, "axis": {"values": [1920,1940,1960,1980,2000,2020], "format": "d", "title": "Leto"}},
    "y": {"field": "y", "type": "quantitative", "scale": {"domain": [-0.13, 3.31], "nice": false, "zero": false}, "axis": {"values": [0,0.5,1,1.5,2,2.5,3], "format": ".1f", "title": null}}},
   "layer": [
    {"data": {"name": "d1"}, "mark": {"type": "line", "strokeWidth": 2, "clip": true}, "encoding": {"color": {"datum": "Sezana", "type": "nominal", "scale": {"domain": ["Sezana", "Tinjan"]}, "legend": {"title": null}}}},
    {"data": {"name": "d2"}, "mark": {"type": "line", "strokeWidth": 2, "clip": true}, "encoding": {"color": {"datum": "Tinjan", "type": "nominal", "scale": {"domain": ["Sezana", "Tinjan"]}, "legend": {"title": null}}}}
   ]}
],
"columns": 2,
"spacing": {"row": 105, "column": 59},
"bounds": "flush",
"resolve": {"scale": {"color": "independent", "x": "independent", "y": "independent"}, "legend": {"color": "independent"}, "axis": {"x": "independent", "y": "independent"}}
}
